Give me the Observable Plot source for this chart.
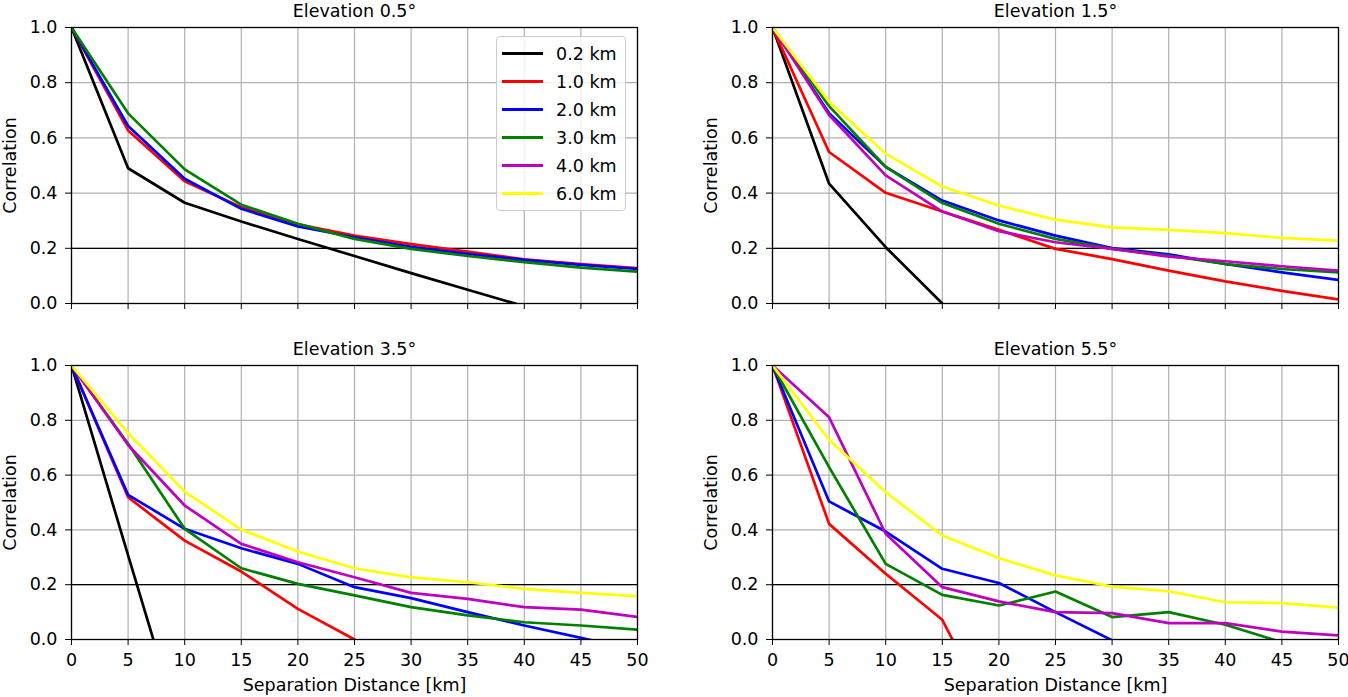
<!DOCTYPE html>
<html>
<head>
<meta charset="utf-8">
<script src="https://cdn.jsdelivr.net/npm/d3@7"></script>
<script src="https://cdn.jsdelivr.net/npm/@observablehq/plot@0.6"></script>
<style>
  body { margin: 0; background: #fff; }
  #fig { position: relative; width: 1348px; height: 697px; font-family: "DejaVu Sans", sans-serif; }
  #fig svg { position: absolute; }
  .legend { position: absolute; left: 496px; top: 36px; width: 130px; height: 175px;
            box-sizing: border-box; border: 1px solid #cccccc; border-radius: 4px;
            background: rgba(255,255,255,0.8); }
  .legend .row { position: absolute; left: 0; height: 28px; width: 100%; }
  .legend .sw { position: absolute; left: 5px; top: 12px; width: 41px; height: 3px; }
  .legend .lb { position: absolute; left: 59px; top: 3px; font-size: 17.5px; line-height: 22px; color: #000; }
</style>
</head>
<body>
<div id="fig"></div>
<script>
// separation distance (km) and the series labels
const distances = [0, 5, 10, 15, 20, 25, 30, 35, 40, 45, 50];
const heights = ["0.2 km", "1.0 km", "2.0 km", "3.0 km", "4.0 km", "6.0 km"];
const colours = ["black", "red", "blue", "green", "#bf00bf", "yellow"];
const elevations = ["0.5", "1.5", "3.5", "5.5"];
const xTicks = [0, 5, 10, 15, 20, 25, 30, 35, 40, 45, 50];
const yTicks = [0, 0.2, 0.4, 0.6, 0.8, 1.0];

// correlation per height (order as heights)
const elev05 = [
  [1, 0.49, 0.365, 0.297, 0.234, 0.172, 0.11, 0.05, -0.01],
  [1, 0.627, 0.443, 0.349, 0.287, 0.246, 0.215, 0.188, 0.16, 0.143, 0.128],
  [1, 0.643, 0.452, 0.343, 0.279, 0.24, 0.205, 0.18, 0.158, 0.14, 0.125],
  [1, 0.689, 0.486, 0.358, 0.289, 0.234, 0.198, 0.172, 0.15, 0.13, 0.115],
  [],
  []
];
const elev15 = [
  [1, 0.434, 0.204, 0],
  [1, 0.549, 0.401, 0.333, 0.267, 0.198, 0.161, 0.119, 0.08, 0.046, 0.015],
  [1, 0.689, 0.495, 0.373, 0.301, 0.246, 0.201, 0.178, 0.143, 0.113, 0.085],
  [1, 0.715, 0.495, 0.364, 0.289, 0.234, 0.198, 0.173, 0.143, 0.125, 0.113],
  [1, 0.683, 0.464, 0.333, 0.262, 0.222, 0.198, 0.17, 0.153, 0.135, 0.119],
  [1, 0.731, 0.543, 0.424, 0.355, 0.304, 0.276, 0.267, 0.255, 0.238, 0.228]
];
const elev35 = [
  [1, 0.307, -0.38],
  [1, 0.519, 0.361, 0.248, 0.112, 0],
  [1, 0.528, 0.404, 0.333, 0.276, 0.191, 0.151, 0.1, 0.051, 0.006, -0.04],
  [1, 0.714, 0.404, 0.26, 0.203, 0.161, 0.118, 0.088, 0.063, 0.051, 0.036],
  [1, 0.71, 0.489, 0.349, 0.282, 0.227, 0.17, 0.148, 0.118, 0.109, 0.082],
  [1, 0.754, 0.54, 0.401, 0.321, 0.26, 0.227, 0.209, 0.185, 0.17, 0.158]
];
const elev55 = [
  [],
  [1, 0.422, 0.24, 0.072, -0.33],
  [1, 0.504, 0.394, 0.258, 0.206, 0.1, -0.003],
  [1, 0.629, 0.276, 0.163, 0.124, 0.175, 0.082, 0.1, 0.054, -0.01],
  [1, 0.811, 0.386, 0.191, 0.139, 0.1, 0.096, 0.06, 0.06, 0.029, 0.015],
  [1, 0.729, 0.538, 0.38, 0.297, 0.234, 0.193, 0.176, 0.136, 0.133, 0.116]
];
const panels = [elev05, elev15, elev35, elev55];

const fig = document.getElementById("fig");

function makePanel(i) {
  const top = i < 2;
  const left = i % 2 === 0;
  const rows = [];
  panels[i].forEach((vals, j) => {
    vals.forEach((v, k) => rows.push({km: distances[k], r: v, h: heights[j]}));
  });

  const chart = Plot.plot({
    width: 674,
    height: top ? 330 : 367,
    marginLeft: left ? 71 : 98,
    marginRight: left ? 37 : 10,
    marginTop: top ? 27 : 35,
    marginBottom: top ? 27 : 58,
    style: {fontFamily: "DejaVu Sans", fontSize: "17.5px", color: "black", background: "transparent", overflow: "visible"},
    x: {domain: [0, 50]},
    y: {domain: [0, 1]},
    color: {domain: heights, range: colours},
    marks: [
      Plot.gridX({ticks: xTicks, stroke: "#b0b0b0", strokeOpacity: 1, strokeWidth: 1.2}),
      Plot.gridY({ticks: yTicks, stroke: "#b0b0b0", strokeOpacity: 1, strokeWidth: 1.2}),
      Plot.ruleY([0.2], {stroke: "black", strokeWidth: 1.3}),
      Plot.line(rows, {x: "km", y: "r", z: "h", stroke: "h", strokeWidth: 2.7, clip: true}),
      Plot.axisX({
        ticks: xTicks, tickSize: 6, tickPadding: 8,
        tickFormat: top ? () => "" : "d",
        label: top ? null : "Separation Distance [km]",
        labelAnchor: "center", labelOffset: 51, labelArrow: "none"
      }),
      Plot.axisY({
        ticks: yTicks, tickSize: 6, tickPadding: 8, tickFormat: ".1f",
        label: "Correlation", labelAnchor: "center", labelOffset: 68, labelArrow: "none"
      }),
      Plot.text([`Elevation ${elevations[i]}°`], {frameAnchor: "top", lineAnchor: "bottom", dy: -11, text: d => d}),
      Plot.frame({stroke: "black", strokeWidth: 1.3})
    ]
  });
  chart.style.left = left ? "0px" : "674px";
  chart.style.top = top ? "0px" : "330px";
  fig.append(chart);
}

[0, 1, 2, 3].forEach(makePanel);

// legend box inside the first panel
const legend = document.createElement("div");
legend.className = "legend";
heights.forEach((h, j) => {
  const row = document.createElement("div");
  row.className = "row";
  row.style.top = (3 + j * 28) + "px";
  const sw = document.createElement("div");
  sw.className = "sw";
  sw.style.background = colours[j];
  const lb = document.createElement("div");
  lb.className = "lb";
  lb.textContent = h;
  row.append(sw, lb);
  legend.append(row);
});
fig.append(legend);
</script>
</body>
</html>
